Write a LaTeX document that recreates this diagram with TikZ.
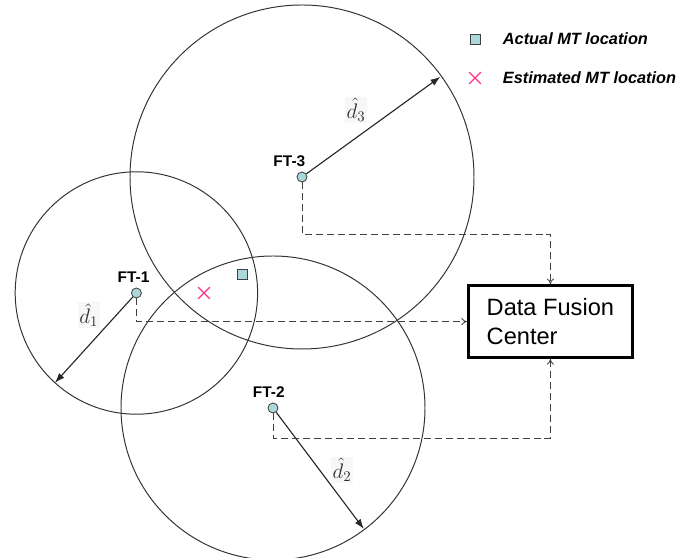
\RequirePackage{fix-cm}
\documentclass[tikz,border=0pt]{standalone}
\usepackage{fontspec}
\setsansfont{Liberation Sans}
\usetikzlibrary{arrows.meta,shapes.misc}
\definecolor{ftcyan}{RGB}{172,216,220}
\definecolor{mtpink}{RGB}{250,50,140}
\begin{document}
\begin{tikzpicture}[font=\sffamily,
    ft/.style={circle, draw=black!75, fill=ftcyan, inner sep=0pt, minimum size=0.25cm, line width=0.6pt},
    ftlabel/.style={font=\sffamily\bfseries\fontsize{11}{13}\selectfont, label distance=0pt},
    ftcircle/.style={draw=black!80, line width=0.7pt},
    rangearrow/.style={-{Latex[length=7pt,width=5pt]}, black!85, line width=0.8pt},
    dist/.style={text=black!80, fill=black!3, inner sep=1pt, font=\fontsize{15}{17}\selectfont},
    feed/.style={-{To[length=4pt,width=5pt]}, black!75, line width=0.6pt, dash pattern=on 5pt off 2.8pt},
    actual/.style={draw=black!75, fill=ftcyan, inner sep=0pt, minimum size=0.25cm, line width=0.6pt},
    estim/.style={cross out, draw=mtpink, inner sep=0pt, minimum size=0.26cm, line width=0.9pt},
    legend/.style={anchor=west, font=\sffamily\bfseries\itshape\fontsize{11.6}{14}\selectfont}]
  \useasboundingbox (0,0) rectangle (17.05,13.95);
  % fixed terminals
  \node[ft, label={[ftlabel, xshift=-9pt]above:FT-3}] (ft3) at (7.55,9.525) {};
  \node[ft, label={[ftlabel, xshift=-2pt]above:FT-1}] (ft1) at (3.41,6.625) {};
  \node[ft, label={[ftlabel, xshift=-3pt]above:FT-2}] (ft2) at (6.825,3.75) {};
  % range circles
  \draw[ftcircle] (ft3.center) circle (4.3);
  \draw[ftcircle] (ft1.center) circle (3.03);
  \draw[ftcircle] (ft2.center) circle (3.8);
  % estimated distances
  \path (ft3.center) ++(35.9:4.27) coordinate (r3);
  \path (ft1.center) ++(227.8:3.03) coordinate (r1);
  \path (ft2.center) ++(-53.1:3.78) coordinate (r2);
  \draw[rangearrow] (ft3) -- (r3);
  \draw[rangearrow] (ft1) -- (r1);
  \draw[rangearrow] (ft2) -- (r2);
  \node[dist] (d3) at (8.9,11.2) {$\hat{d}_3$};
  \node[dist] (d1) at (2.22,6.07) {$\hat{d}_1$};
  \node[dist] (d2) at (8.55,2.2) {$\hat{d}_2$};
  % mobile terminal
  \node[actual] (mt) at (6.05,7.1) {};
  \node[estim] (mtest) at (5.1,6.625) {};
  % fusion center
  \node[draw, line width=2pt, minimum width=4.1cm, minimum height=1.8cm, align=left,
        font=\sffamily\fontsize{16.8}{20}\selectfont] (dfc) at (13.76,5.91) {Data Fusion\\Center};
  \draw[feed] (ft3) -- ++(0,-1.425) -| (dfc.north);
  \draw[feed] (ft1) |- (dfc.west);
  \draw[feed] (ft2) -- ++(0,-0.75) -| (dfc.south);
  % legend
  \node[actual] (lgsq) at (11.875,12.975) {};
  \node[legend] (lgact) at (12.45,12.975) {Actual MT location};
  \node[estim] (lgx) at (11.875,12.0) {};
  \node[legend] (lgest) at (12.45,12.0) {Estimated MT location};
\end{tikzpicture}
\end{document}
